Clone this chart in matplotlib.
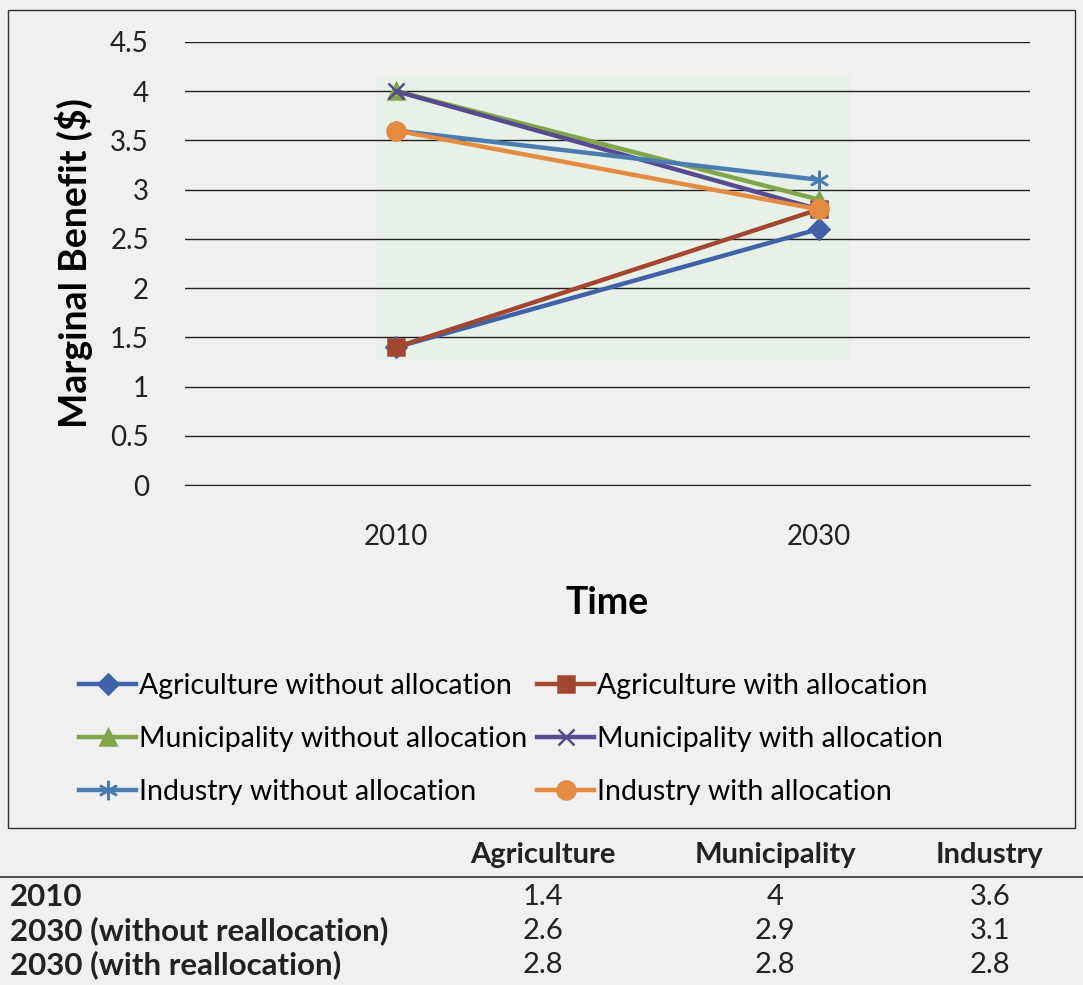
import matplotlib
matplotlib.use("Agg")
import matplotlib.pyplot as plt
from matplotlib.patches import Rectangle
from matplotlib.lines import Line2D

plt.rcParams['font.family'] = ['Lato', 'DejaVu Sans']

# data
years = ['2010', '2030']
agri_without = [1.4, 2.6]
agri_with = [1.4, 2.8]
muni_without = [4.0, 2.9]
muni_with = [4.0, 2.8]
ind_without = [3.6, 3.1]
ind_with = [3.6, 2.8]
yticks = [0, 0.5, 1, 1.5, 2, 2.5, 3, 3.5, 4, 4.5]

table_cols = ['Agriculture', 'Municipality', 'Industry']
table_rows = ['2010', '2030 (without reallocation)', '2030 (with reallocation)']
table_vals = [['1.4', '4', '3.6'],
              ['2.6', '2.9', '3.1'],
              ['2.8', '2.8', '2.8']]

W, H = 1083, 985
def fx(x):
	return x / W
def fy(y):
	return 1 - y / H

bg = '#f0f0f0'
ink = '#222222'
fig = plt.figure(figsize=(W / 100, H / 100), dpi=100, facecolor=bg)

ax = fig.add_axes([fx(185), fy(485), fx(1030) - fx(185), fy(42) - fy(485)])
ax.set_facecolor(bg)

# faint greenish patch from the scan behind the lines
ax.add_patch(Rectangle((-0.045, 1.27), 1.12, 2.9, color='#e6f2e7', alpha=0.85, lw=0, zorder=0))

series = [
	('Agriculture without allocation', agri_without, '#3f62a8', 'D', 10),
	('Agriculture with allocation', agri_with, '#a3462f', 's', 11),
	('Municipality without allocation', muni_without, '#80a64a', '^', 12),
	('Municipality with allocation', muni_with, '#574a8e', 'x', 11),
	('Industry without allocation', ind_without, '#4a7cb2', (6, 2, 0), 14),
	('Industry with allocation', ind_with, '#e58b41', 'o', 13),
]

x = [0, 1]
handles = {}
for name, vals, c, m, ms in series:
	ln, = ax.plot(x, vals, color=c, lw=3.2, marker=m, ms=ms, mew=1.8,
		mec=c, mfc=c, label=name, zorder=3)
	handles[name] = ln

ax.set_xlim(-0.5, 1.5)
ax.set_ylim(0, 4.5)
ax.set_yticks(yticks)
ax.set_yticklabels(['0', '0.5', '1', '1.5', '2', '2.5', '3', '3.5', '4', '4.5'])
ax.set_xticks(x)
ax.set_xticklabels(years)
ax.yaxis.grid(True, color=ink, lw=1.0)
ax.set_axisbelow(True)
for s in ax.spines.values():
	s.set_visible(False)
ax.spines['bottom'].set_visible(True)
ax.spines['bottom'].set_color(ink)
ax.tick_params(axis='both', length=0, labelsize=20, colors=ink)
ax.tick_params(axis='y', pad=26)
ax.tick_params(axis='x', pad=28)
ax.set_ylabel('Marginal Benefit ($)', fontsize=27, fontweight='bold', labelpad=12)
ax.set_xlabel('Time', fontsize=27, fontweight='bold', labelpad=26)

# legend, two columns, filled row by row
order = ['Agriculture without allocation', 'Municipality without allocation',
	'Industry without allocation', 'Agriculture with allocation',
	'Municipality with allocation', 'Industry with allocation']
fig.legend([handles[k] for k in order], order, ncol=2, frameon=False,
	loc='center left', bbox_to_anchor=(fx(68), fy(739)), fontsize=20.5,
	handlelength=2.0, handletextpad=0.1, columnspacing=0.35, labelspacing=0.95,
	borderaxespad=0)

# chart border
fig.add_artist(Rectangle((fx(8), fy(828)), fx(1075) - fx(8), fy(10) - fy(828),
	transform=fig.transFigure, fill=False, ec='#333333', lw=1.0))

# table below the chart
fig.add_artist(Line2D([0, 1], [fy(877), fy(877)], transform=fig.transFigure,
	color='#333333', lw=1.2))
col_x = [543, 775, 990]
for cx, name in zip(col_x, table_cols):
	fig.text(fx(cx), fy(855), name, ha='center', va='center', fontsize=21,
		fontweight='bold', color=ink)
row_y = [897, 931, 965]
for ry, name, vals in zip(row_y, table_rows, table_vals):
	fig.text(fx(10), fy(ry), name, ha='left', va='center', fontsize=22.5,
		fontweight='bold', color=ink)
	for cx, v in zip(col_x, vals):
		fig.text(fx(cx), fy(ry), v, ha='center', va='center', fontsize=21,
			color=ink)

fig.savefig('out.png', dpi=100, facecolor=bg)
